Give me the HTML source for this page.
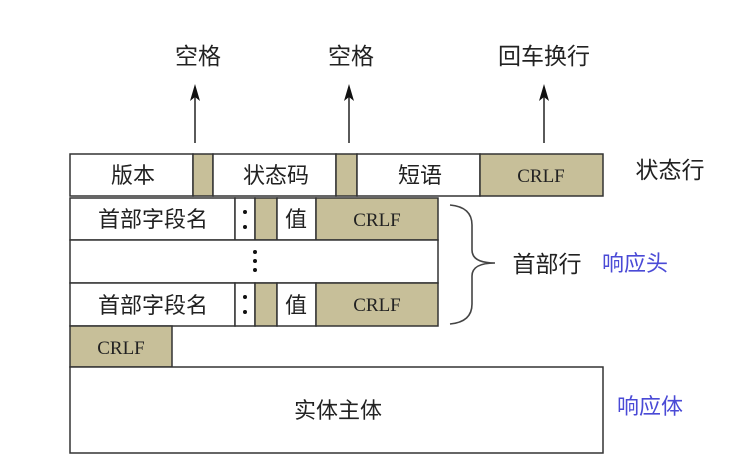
<!DOCTYPE html>
<html><head><meta charset="utf-8"><style>
body{margin:0;background:#fff;}
svg text{font-family:"Liberation Sans","Noto Sans CJK SC",sans-serif;}
.m{font-family:"Liberation Serif","Noto Serif CJK SC",serif;}
</style></head><body>
<svg width="742" height="469" viewBox="0 0 742 469" xmlns="http://www.w3.org/2000/svg">
<g stroke="#222" stroke-width="1.5">
<line x1="195" y1="143" x2="195" y2="95"/>
<line x1="349" y1="143" x2="349" y2="95"/>
<line x1="544" y1="143" x2="544" y2="95"/>
</g>
<g fill="#111">
<path d="M190,101 L195,84 L200,101 L195,97 Z"/>
<path d="M344,101 L349,84 L354,101 L349,97 Z"/>
<path d="M539,101 L544,84 L549,101 L544,97 Z"/>
</g>
<g font-size="23" fill="#222" text-anchor="middle">
<text x="198" y="64">空格</text>
<text x="351" y="64">空格</text>
<text x="544" y="64">回车换行</text>
<text x="670" y="178">状态行</text>
<text x="547" y="272">首部行</text>
</g>
<g font-size="22" fill="#4a4ad6" text-anchor="middle">
<text x="635" y="271">响应头</text>
<text x="650" y="414">响应体</text>
</g>
<g stroke="#333" stroke-width="1.5">
<rect x="70" y="154" width="123" height="42" fill="#fff"/>
<rect x="193" y="154" width="20" height="42" fill="#c7bf99"/>
<rect x="213" y="154" width="123" height="42" fill="#fff"/>
<rect x="336" y="154" width="21" height="42" fill="#c7bf99"/>
<rect x="357" y="154" width="123" height="42" fill="#fff"/>
<rect x="480" y="154" width="123" height="42" fill="#c7bf99"/>

<rect x="70" y="198" width="165" height="42" fill="#fff"/>
<rect x="235" y="198" width="20" height="42" fill="#fff"/>
<rect x="255" y="198" width="22" height="42" fill="#c7bf99"/>
<rect x="277" y="198" width="39" height="42" fill="#fff"/>
<rect x="316" y="198" width="122" height="42" fill="#c7bf99"/>

<rect x="70" y="240" width="368" height="43" fill="#fff"/>

<rect x="70" y="283" width="165" height="43" fill="#fff"/>
<rect x="235" y="283" width="20" height="43" fill="#fff"/>
<rect x="255" y="283" width="22" height="43" fill="#c7bf99"/>
<rect x="277" y="283" width="39" height="43" fill="#fff"/>
<rect x="316" y="283" width="122" height="43" fill="#c7bf99"/>

<rect x="70" y="326" width="102" height="41" fill="#c7bf99"/>
<rect x="70" y="367" width="533" height="86" fill="#fff"/>
</g>
<path d="M450,205 Q472,207 472,225 L472,250 Q472,263 495,263 Q472,263 472,276 L472,304 Q472,322 450,324" fill="none" stroke="#444" stroke-width="1.6"/>
<g font-size="22" fill="#222" text-anchor="middle">
<text x="133" y="183">版本</text>
<text x="276" y="183">状态码</text>
<text x="420" y="183">短语</text>
<text x="153" y="227">首部字段名</text>
<text x="296" y="227">值</text>
<text x="153" y="313">首部字段名</text>
<text x="296" y="313">值</text>
<text x="338" y="418">实体主体</text>
</g>
<g font-size="19" fill="#222" text-anchor="middle">
<text x="541" y="182" class="m">CRLF</text>
<text x="377" y="226" class="m">CRLF</text>
<text x="377" y="311" class="m">CRLF</text>
<text x="121" y="354" class="m">CRLF</text>
</g>
<g fill="#111">
<circle cx="245" cy="212" r="2"/><circle cx="245" cy="227" r="2"/>
<circle cx="245" cy="297" r="2"/><circle cx="245" cy="312" r="2"/>
<circle cx="255" cy="252" r="2"/><circle cx="255" cy="261" r="2"/><circle cx="255" cy="270" r="2"/>
</g>
</svg>
</body></html>
